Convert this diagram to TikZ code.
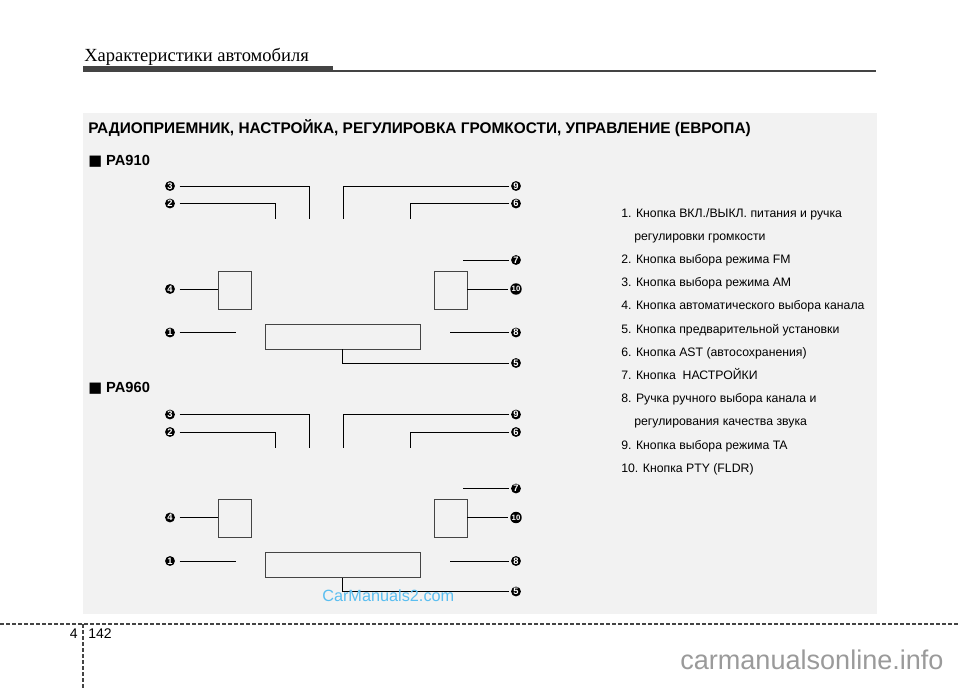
\documentclass[tikz,border=0pt]{standalone}
\usepackage{fontspec}
\setmainfont{Liberation Sans}
\newfontfamily\hdrfont{Liberation Serif}
\newfontfamily\symfont{DejaVu Sans}
\definecolor{panel}{HTML}{F2F2F2}
\definecolor{wmblue}{RGB}{90,190,240}
\definecolor{wmgray}{HTML}{9A9A9A}
\definecolor{dark}{HTML}{444444}
\begin{document}
\begin{tikzpicture}[x=0.75pt,y=-0.75pt,
  num/.style={circle,fill=black,text=white,inner sep=0pt,minimum size=7.4pt,font=\bfseries\fontsize{7}{7}\selectfont},
  numL/.style={num,outer sep=3.6pt},
  numR/.style={num,outer sep=1.5pt},
  numw/.style={numR,minimum size=8.6pt,font=\bfseries\fontsize{5.8}{5.8}\selectfont},
  leader/.style={line width=0.75pt,black},
  smallbox/.style={draw=dark,line width=0.75pt,inner sep=0pt,outer sep=0pt,minimum width=24.4pt,minimum height=28.5pt},
  bigbox/.style={draw=dark,line width=0.75pt,inner sep=0pt,outer sep=0pt,minimum width=115.9pt,minimum height=19.1pt},
  listtxt/.style={anchor=base west,inner sep=0pt,font=\fontsize{9.2}{11}\selectfont},
  boldtxt/.style={anchor=base west,inner sep=0pt,font=\bfseries\fontsize{11.55}{13}\selectfont},
  patxt/.style={anchor=base west,inner sep=0pt,font=\bfseries\fontsize{11}{13}\selectfont}]
\useasboundingbox (0,0) rectangle (960,689);
% header
\node[anchor=base west,inner sep=0pt,font=\hdrfont\fontsize{13.9}{15}\selectfont] (hdr) at (84,61.5) {Характеристики автомобиля};
\fill[dark] (83,66) rectangle (333,71.5);
\draw[line width=1.1pt,dark] (333,71) -- (876,71);
% panel
\fill[panel] (83,113) rectangle (877,614);
\node[boldtxt] (title) at (88,133.3) {РАДИОПРИЕМНИК, НАСТРОЙКА, РЕГУЛИРОВКА ГРОМКОСТИ, УПРАВЛЕНИЕ (ЕВРОПА)};
\node[patxt] (pa910) at (88,165) {{\symfont ■} PA910};
\node[patxt] (pa960) at (88,392) {{\symfont ■} PA960};
% diagrams
\foreach \i/\oy in {a/0,b/228.5}{
  \node[numL] (n3\i) at (170,186+\oy) {3};
  \node[numL] (n2\i) at (170,203.5+\oy) {2};
  \node[numR] (n9\i) at (516,186+\oy) {9};
  \node[numR] (n6\i) at (516,203.5+\oy) {6};
  \node[numR] (n7\i) at (516,260+\oy) {7};
  \node[numw] (n10\i) at (516,289+\oy) {10};
  \node[numL] (n4\i) at (170,289+\oy) {4};
  \node[numL] (n1\i) at (170,332.5+\oy) {1};
  \node[numR] (n8\i) at (516,332.5+\oy) {8};
  \node[numR] (n5\i) at (516,363+\oy) {5};
  \node[smallbox] (bl\i) at (234.75,290+\oy) {};
  \node[smallbox] (br\i) at (451,290+\oy) {};
  \node[bigbox] (bb\i) at (342.75,336.75+\oy) {};
  \coordinate (c3\i) at (309,219+\oy);
  \coordinate (c2\i) at (275.5,219+\oy);
  \coordinate (c9\i) at (343,219+\oy);
  \coordinate (c6\i) at (410,219+\oy);
  \coordinate (c7\i) at (463,260+\oy);
  \coordinate (c1\i) at (236,332.5+\oy);
  \coordinate (c8\i) at (450,332.5+\oy);
  \draw[leader] (n3\i.east) -| (c3\i);
  \draw[leader] (n2\i.east) -| (c2\i);
  \draw[leader] (n9\i.west) -| (c9\i);
  \draw[leader] (n6\i.west) -| (c6\i);
  \draw[leader] (c7\i) -- (n7\i.west);
  \draw[leader] (br\i.east |- n10\i) -- (n10\i.west);
  \draw[leader] (n4\i.east) -- (bl\i.west |- n4\i);
  \draw[leader] (n1\i.east) -- (c1\i);
  \draw[leader] (c8\i) -- (n8\i.west);
  \draw[leader] (bb\i.south) |- (n5\i.west);
}
% list
\foreach \k/\t/\xx in {0/{1. Кнопка ВКЛ./ВЫКЛ. питания и ручка}/621,
  1/{регулировки громкости}/634,
  2/{2. Кнопка выбора режима FM}/621,
  3/{3. Кнопка выбора режима AM}/621,
  4/{4. Кнопка автоматического выбора канала}/621,
  5/{5. Кнопка предварительной установки}/621,
  6/{6. Кнопка AST (автосохранения)}/621,
  7/{7. Кнопка\ \ НАСТРОЙКИ}/621,
  8/{8. Ручка ручного выбора канала и}/621,
  9/{регулирования качества звука}/634,
  10/{9. Кнопка выбора режима TA}/621,
  11/{10. Кнопка PTY (FLDR)}/621}{
  \node[listtxt] (l\k) at (\xx,217+\k*23.2) {\t};
}
% footer
\draw[dash pattern=on 3pt off 1.5pt,line width=0.9pt,dark] (0,624) -- (960,624);
\draw[dash pattern=on 3pt off 1.5pt,line width=0.9pt,dark] (83,624) -- (83,689);
\node[anchor=base east,inner sep=0pt,font=\fontsize{10.5}{12}\selectfont] (chap) at (78,638) {4};
\node[anchor=base west,inner sep=0pt,font=\fontsize{10.5}{12}\selectfont] (page) at (88,638) {142};
% watermarks
\node[anchor=base west,inner sep=0pt,text=wmblue,font=\fontsize{12.2}{14}\selectfont] (wm1) at (322,601) {CarManuals2.com};
\node[anchor=base west,inner sep=0pt,text=wmgray,font=\fontsize{20.3}{22}\selectfont] (wm2) at (680,669) {carmanualsonline.info};
\end{tikzpicture}
\end{document}
